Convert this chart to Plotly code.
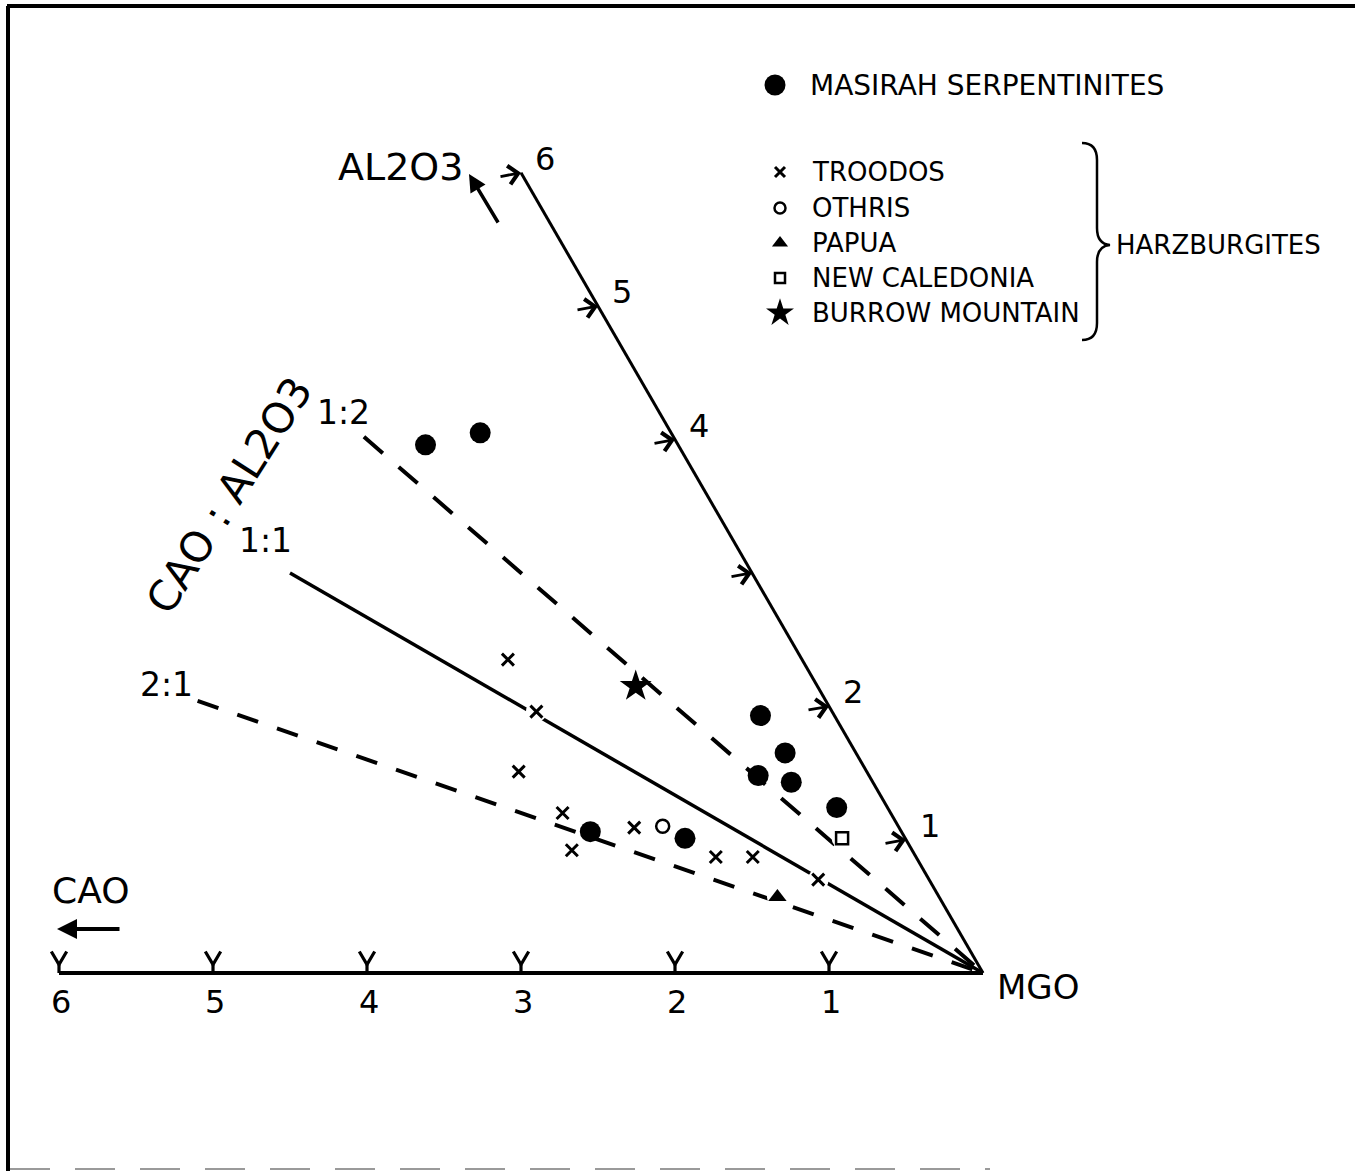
import math
import plotly.graph_objects as go

# ---------------- data ----------------
MASIRAH_CAO = [1.64, 1.24, 0.48, 0.46, 0.72, 0.53, 0.33, 2.02, 1.43]
MASIRAH_AL2O3 = [3.96, 4.05, 1.93, 1.65, 1.48, 1.43, 1.24, 1.06, 1.01]

TROODOS_CAO = [1.91, 1.92, 2.26, 2.13, 2.21, 1.72, 1.30, 1.06, 0.72]
TROODOS_AL2O3 = [2.35, 1.96, 1.51, 1.20, 0.92, 1.09, 0.87, 0.87, 0.70]

OTHRIS_CAO = [1.53]
OTHRIS_AL2O3 = [1.10]

PAPUA_CAO = [1.05]
PAPUA_AL2O3 = [0.57]

NEWCAL_CAO = [0.41]
NEWCAL_AL2O3 = [1.01]

BURROW_CAO = [1.18]
BURROW_AL2O3 = [2.15]

CAO_TICKS = [1, 2, 3, 4, 5, 6]
CAO_TICK_LABELS = ["1", "2", "3", "4", "5", "6"]
AL2O3_TICKS = [1, 2, 3, 4, 5, 6]
AL2O3_TICK_LABELS = ["1", "2", "", "4", "5", "6"]

RATIO_LABELS = ["1:2", "1:1", "2:1"]
RATIO_CAO_PART = [1, 1, 2]
RATIO_AL2O3_PART = [2, 1, 1]
RATIO_END_AL2O3 = [4.02, 3.0, 2.04]

LEGEND_MAIN = "MASIRAH SERPENTINITES"
LEGEND_HARZ = ["TROODOS", "OTHRIS", "PAPUA", "NEW CALEDONIA", "BURROW MOUNTAIN"]
HARZ_GROUP = "HARZBURGITES"

# ---------------- geometry helpers ----------------
S3 = math.sqrt(3) / 2
W, H = 1355, 1171
OX, OY, SC = 983, 973, 154.0   # origin pixel (MgO corner) and px per unit

def tx(c, a):
    return [ci + ai / 2 for ci, ai in zip(c, a)]

def ty(a):
    return [ai * S3 for ai in a]

FONT = "DejaVu Sans"
BLACK = "black"

fig = go.Figure()

# CaO axis and Al2O3 axis
fig.add_trace(go.Scatter(x=tx([0, max(CAO_TICKS)], [0, 0]), y=ty([0, 0]),
                         mode="lines", line=dict(color=BLACK, width=4), hoverinfo="skip"))
fig.add_trace(go.Scatter(x=tx([0, 0], [0, max(AL2O3_TICKS)]), y=ty([0, max(AL2O3_TICKS)]),
                         mode="lines", line=dict(color=BLACK, width=3), hoverinfo="skip"))

# "Y" ticks on CaO axis
tw, th, tv = 0.05, 0.14, 0.055
xs, ys = [], []
for t in CAO_TICKS:
    xs += [t - tw, t, t + tw, None, t, t, None]
    ys += [th, tv, th, None, tv, 0, None]
fig.add_trace(go.Scatter(x=xs, y=ys, mode="lines", line=dict(color=BLACK, width=3.2),
                         hoverinfo="skip"))

# ratio lines
ratio_styles = [dict(dash="25px,21px", width=4), dict(dash="solid", width=3.5),
                dict(dash="22px,20px", width=4)]
for lab, cp, ap, aend, st in zip(RATIO_LABELS, RATIO_CAO_PART, RATIO_AL2O3_PART,
                                  RATIO_END_AL2O3, ratio_styles):
    cend = aend * cp / ap
    fig.add_trace(go.Scatter(x=tx([cend, 0], [aend, 0]), y=ty([aend, 0]), mode="lines",
                             line=dict(color=BLACK, **st), hoverinfo="skip"))

# white halos so lines break around the small harzburgite symbols
halo_c = TROODOS_CAO + OTHRIS_CAO + PAPUA_CAO + NEWCAL_CAO
halo_a = TROODOS_AL2O3 + OTHRIS_AL2O3 + PAPUA_AL2O3 + NEWCAL_AL2O3
fig.add_trace(go.Scatter(x=tx(halo_c, halo_a), y=ty(halo_a), mode="markers",
                         marker=dict(symbol="circle", size=21, color="white"), hoverinfo="skip"))

# data markers
fig.add_trace(go.Scatter(x=tx(MASIRAH_CAO, MASIRAH_AL2O3), y=ty(MASIRAH_AL2O3), mode="markers",
                         name=LEGEND_MAIN, marker=dict(symbol="circle", size=21, color=BLACK)))
fig.add_trace(go.Scatter(x=tx(TROODOS_CAO, TROODOS_AL2O3), y=ty(TROODOS_AL2O3), mode="markers",
                         name=LEGEND_HARZ[0],
                         marker=dict(symbol="x-thin", size=12, color=BLACK,
                                     line=dict(color=BLACK, width=3))))
fig.add_trace(go.Scatter(x=tx(OTHRIS_CAO, OTHRIS_AL2O3), y=ty(OTHRIS_AL2O3), mode="markers",
                         name=LEGEND_HARZ[1],
                         marker=dict(symbol="circle-open", size=13, color=BLACK,
                                     line=dict(color=BLACK, width=2.5))))
fig.add_trace(go.Scatter(x=tx(PAPUA_CAO, PAPUA_AL2O3), y=ty(PAPUA_AL2O3), mode="markers",
                         name=LEGEND_HARZ[2], marker=dict(symbol="triangle-up", size=16, color=BLACK)))
fig.add_trace(go.Scatter(x=tx(NEWCAL_CAO, NEWCAL_AL2O3), y=ty(NEWCAL_AL2O3), mode="markers",
                         name=LEGEND_HARZ[3],
                         marker=dict(symbol="square-open", size=12, color=BLACK,
                                     line=dict(color=BLACK, width=2.5))))
fig.add_trace(go.Scatter(x=tx(BURROW_CAO, BURROW_AL2O3), y=ty(BURROW_AL2O3), mode="markers",
                         name=LEGEND_HARZ[4], marker=dict(symbol="star", size=24, color=BLACK)))

# ---------------- hand-drawn legend (pixel overlay axes) ----------------
leg_sym_x = 780
leg_txt_x = 810
main_y = 85
harz_y = [172, 208, 243, 278, 313]
fig.add_trace(go.Scatter(x=[775], y=[main_y], xaxis="x2", yaxis="y2", mode="markers",
                         marker=dict(symbol="circle", size=21, color=BLACK), hoverinfo="skip"))
leg_syms = [dict(symbol="x-thin", size=10, color=BLACK, line=dict(color=BLACK, width=3)),
            dict(symbol="circle-open", size=11, color=BLACK, line=dict(color=BLACK, width=2.5)),
            dict(symbol="triangle-up", size=14, color=BLACK),
            dict(symbol="square-open", size=10, color=BLACK, line=dict(color=BLACK, width=2.5)),
            dict(symbol="star", size=21, color=BLACK)]
for yy, ms in zip(harz_y, leg_syms):
    fig.add_trace(go.Scatter(x=[leg_sym_x], y=[yy], xaxis="x2", yaxis="y2", mode="markers",
                             marker=ms, hoverinfo="skip"))

ann = []
ann.append(dict(x=leg_txt_x - 2, y=main_y, xref="x2", yref="y2", text=LEGEND_MAIN, showarrow=False,
                xanchor="left", yanchor="middle", font=dict(size=28, family=FONT, color=BLACK)))
for yy, name in zip(harz_y, LEGEND_HARZ):
    ann.append(dict(x=leg_txt_x, y=yy, xref="x2", yref="y2", text=name, showarrow=False,
                    xanchor="left", yanchor="middle", font=dict(size=26, family=FONT, color=BLACK)))
ann.append(dict(x=1114, y=245, xref="x2", yref="y2", text=HARZ_GROUP, showarrow=False,
                xanchor="left", yanchor="middle", font=dict(size=26, family=FONT, color=BLACK)))

# tick labels CaO
for t, lab in zip(CAO_TICKS, CAO_TICK_LABELS):
    ann.append(dict(x=t, y=0, text=lab, showarrow=False, xanchor="center", yanchor="top",
                    xshift=2, yshift=-8, font=dict(size=32, family=FONT, color=BLACK)))
# tick arrows + labels Al2O3
for t, lab in zip(AL2O3_TICKS, AL2O3_TICK_LABELS):
    xx, yy = t / 2, t * S3
    ann.append(dict(x=xx, y=yy, text="", showarrow=True, ax=-22, ay=4, arrowhead=4,
                    arrowsize=1.3, arrowwidth=2.8, arrowcolor=BLACK, standoff=0))
    if lab:
        ann.append(dict(x=xx, y=yy, text=lab, showarrow=False, xanchor="left", yanchor="middle",
                        xshift=12, yshift=14, font=dict(size=32, family=FONT, color=BLACK)))

# ratio labels
ratio_shift = [(-20, 24), (-25, 32), (-31, 16)]
for lab, cp, ap, aend, (sx, sy) in zip(RATIO_LABELS, RATIO_CAO_PART, RATIO_AL2O3_PART,
                                       RATIO_END_AL2O3, ratio_shift):
    cend = aend * cp / ap
    ann.append(dict(x=cend + aend / 2, y=aend * S3, text=lab, showarrow=False,
                    xanchor="center", yanchor="middle", xshift=sx, yshift=sy,
                    font=dict(size=33, family=FONT, color=BLACK)))

# axis names and arrows
ann.append(dict(x=400, y=167, xref="x2", yref="y2", text="AL2O3", showarrow=False,
                xanchor="center", yanchor="middle", font=dict(size=38, family=FONT, color=BLACK)))
ann.append(dict(x=469, y=174, xref="x2", yref="y2", text="", showarrow=True, ax=30, ay=50,
                arrowhead=2, arrowsize=1, arrowwidth=3.5, arrowcolor=BLACK, standoff=0))
ann.append(dict(x=90, y=890, xref="x2", yref="y2", text="CAO", showarrow=False,
                xanchor="center", yanchor="middle", font=dict(size=36, family=FONT, color=BLACK)))
ann.append(dict(x=57, y=929, xref="x2", yref="y2", text="", showarrow=True, ax=64, ay=0,
                arrowhead=2, arrowsize=1, arrowwidth=4, arrowcolor=BLACK, standoff=0))
ann.append(dict(x=0, y=0, text="MGO", showarrow=False, xanchor="left", yanchor="top",
                xshift=12, yshift=8, font=dict(size=34, family=FONT, color=BLACK)))
ann.append(dict(x=229, y=495, xref="x2", yref="y2", text="CAO : AL2O3", showarrow=False,
                textangle=-57.6, xanchor="center", yanchor="middle",
                font=dict(size=42, family=FONT, color=BLACK)))

shapes = [
    dict(type="line", xref="x2", yref="y2", x0=7, y0=6, x1=W, y1=6, line=dict(color=BLACK, width=4)),
    dict(type="line", xref="x2", yref="y2", x0=8, y0=6, x1=8, y1=H, line=dict(color=BLACK, width=4)),
    dict(type="line", xref="x2", yref="y2", x0=10, y0=1169, x1=990, y1=1169,
         line=dict(color="#9a9a9a", width=2, dash="40px,25px")),
    dict(type="path", xref="x2", yref="y2",
         path="M1082,143 Q1097,143 1097,160 L1097,228 Q1097,244 1110,245 "
              "Q1097,246 1097,262 L1097,323 Q1097,340 1082,340",
         line=dict(color=BLACK, width=2.5)),
]

fig.update_layout(
    width=W, height=H, autosize=False,
    margin=dict(l=0, r=0, t=0, b=0, pad=0),
    paper_bgcolor="white", plot_bgcolor="white",
    showlegend=False,
    xaxis=dict(range=[OX / SC, -(W - OX) / SC], visible=False, domain=[0, 1]),
    yaxis=dict(range=[-(H - OY) / SC, OY / SC], visible=False, domain=[0, 1]),
    xaxis2=dict(range=[0, W], overlaying="x", visible=False),
    yaxis2=dict(range=[H, 0], overlaying="y", visible=False),
    annotations=ann,
    shapes=shapes,
)

fig.write_html("out.html")
